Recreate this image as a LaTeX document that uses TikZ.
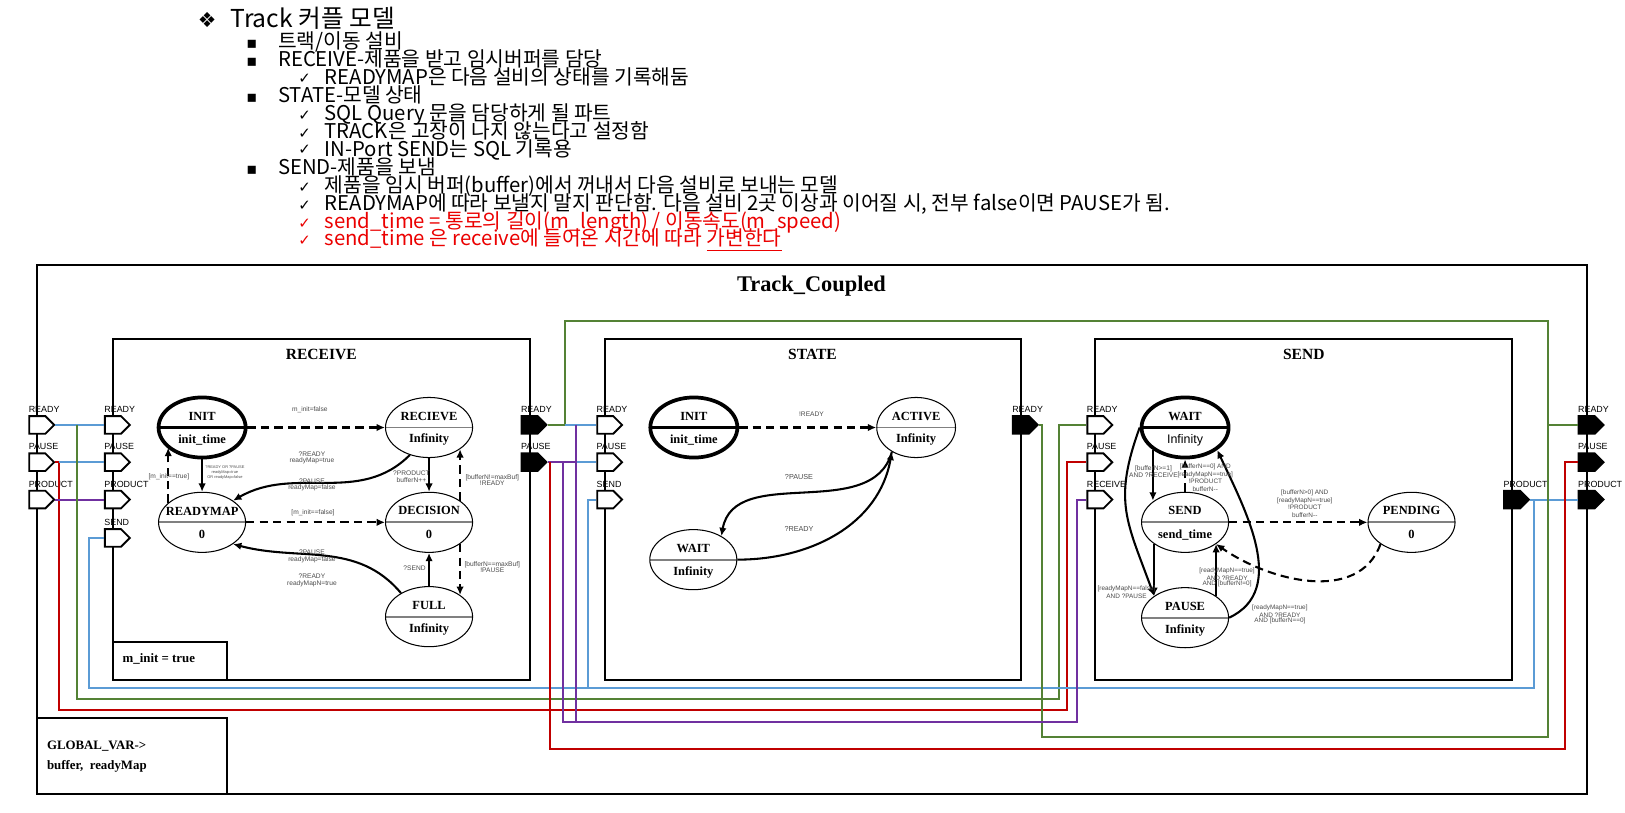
\documentclass[tikz,border=0pt]{standalone}
\usepackage{fontspec}
\setmainfont{Liberation Serif}
\setsansfont{Liberation Sans}
\newfontfamily\krfont{Noto Sans CJK KR}
\newfontfamily\dingfont{DejaVu Sans}
\usetikzlibrary{arrows.meta,shapes.geometric,shapes.symbols,calc}

\definecolor{wireblue}{RGB}{91,155,213}
\definecolor{wiregreen}{RGB}{84,130,53}
\definecolor{wirered}{RGB}{192,0,0}
\definecolor{wirepurple}{RGB}{112,48,160}
\definecolor{notered}{RGB}{235,0,0}

\tikzset{
  blk/.style={draw,line width=1pt},
  st/.style={ellipse,draw,line width=0.5pt,minimum width=42pt,minimum height=29pt,inner sep=0pt,
    path picture={\draw[black!50,line width=0.9pt] (path picture bounding box.west) -- (path picture bounding box.east);}},
  stfirst/.style={st,line width=1.8pt,
    path picture={\draw[line width=1.4pt] (path picture bounding box.west) -- (path picture bounding box.east);}},
  sttxt/.style={font=\fontsize{6}{7}\selectfont\bfseries,inner sep=0pt},
  tr/.style={line width=1pt,-{Latex[length=4pt,width=3.6pt]}},
  trd/.style={tr,dash pattern=on 4pt off 2.5pt},
  lbl/.style={font=\sffamily\fontsize{3.2}{3.1}\selectfont,text=black!70,align=center,inner sep=0pt},
  lbltight/.style={lbl,font=\sffamily\fontsize{3.1}{2.35}\selectfont},
  lblwide/.style={lbl,font=\sffamily\fontsize{3.1}{3.75}\selectfont},
  port/.style={signal,signal to=east,draw,line width=0.9pt,fill=white,minimum width=12pt,minimum height=8.5pt,inner sep=0pt},
  outport/.style={port,fill=black},
  portlbl/.style={font=\sffamily\fontsize{4.3}{5}\selectfont,inner sep=0pt},
  wire/.style={line width=1pt},
  toptxt/.style={font=\krfont\fontsize{9.8}{10}\selectfont,anchor=base west,inner sep=0pt},
  ding/.style={font=\dingfont\fontsize{7.2}{8}\selectfont,anchor=base,inner sep=0pt},
  sqr/.style={font=\dingfont\fontsize{7.8}{8}\selectfont,anchor=base,inner sep=0pt},
  blkttl/.style={font=\fontsize{7.5}{9}\selectfont\bfseries,inner sep=0pt},
  boxtxt/.style={font=\fontsize{6.2}{7}\selectfont\bfseries,anchor=west,inner sep=0pt}
}

\newcommand\fsmstate[5][st]{%
  \node[#1] (#2) at (#3) {};
  \node[sttxt] (#2-up) at ($(#2.center)+(0,-11)$) {#4};
  \node[sttxt] (#2-dn) at ($(#2.center)+(0,12)$) {#5};}

\newcommand\portnode[5]{%
  \node[#1] (#2) at (#3,#4) {};
  \node[portlbl,anchor=south west] (#2-lbl) at ($(#2.west |- #2.north)+(0,-2)$) {#5};}

\begin{document}
\begin{tikzpicture}[x=0.5pt,y=-0.5pt]
  \useasboundingbox[fill=white] (0,0) rectangle (1568,784);

  % notes on top
  \node[ding,font=\dingfont\fontsize{10}{11}\selectfont] (d0) at (200,26.5) {❖};
  \node[toptxt,font=\krfont\fontsize{11.9}{12}\selectfont] (t0) at (222,26.5) {Track 커플 모델};
  \node[sqr] (d1) at (243,47) {▪};
  \node[toptxt] (t1) at (268,47) {트랙/이동 설비};
  \node[sqr] (d2) at (243,64.3) {▪};
  \node[toptxt] (t2) at (268,64.3) {RECEIVE-제품을 받고 임시버퍼를 담당};
  \node[ding] (d3) at (294,80.2) {✓};
  \node[toptxt] (t3) at (313,81.6) {READYMAP은 다음 설비의 상태를 기록해둠};
  \node[sqr] (d4) at (243,98.9) {▪};
  \node[toptxt] (t4) at (268,98.9) {STATE-모델 상태};
  \node[ding] (d5) at (294,116.2) {✓};
  \node[toptxt] (t5) at (313,116.2) {SQL Query 문을 담당하게 될 파트};
  \node[ding] (d6) at (294,133.5) {✓};
  \node[toptxt] (t6) at (313,133.5) {TRACK은 고장이 나지 않는다고 설정함};
  \node[ding] (d7) at (294,149.4) {✓};
  \node[toptxt] (t7) at (313,150.8) {IN-Port SEND는 SQL 기록용};
  \node[sqr] (d8) at (243,168.1) {▪};
  \node[toptxt] (t8) at (268,168.1) {SEND-제품을 보냄};
  \node[ding] (d9) at (294,185.4) {✓};
  \node[toptxt] (t9) at (313,185.4) {제품을 임시 버퍼(buffer)에서 꺼내서 다음 설비로 보내는 모델};
  \node[ding] (d10) at (294,202.7) {✓};
  \node[toptxt] (t10) at (313,202.7) {READYMAP에 따라 보낼지 말지 판단함. 다음 설비 2곳 이상과 이어질 시, 전부 false이면 PAUSE가 됨.};
  \node[ding,text=notered] (d11) at (294,220) {✓};
  \node[toptxt,text=notered] (t11) at (313,220) {send\_time = 통로의 길이(m\_length) / 이동속도(m\_speed)};
  \node[ding,text=notered] (d12) at (294,237.3) {✓};
  \node[toptxt,text=notered] (t12) at (313,237.3) {send\_time 은 receive에 들어온 시간에 따라 \underline{가변한다}};

  % boxes
  \draw[blk] (36,256) rectangle (1531,766);
  \node[font=\fontsize{10.8}{12}\selectfont\bfseries,inner sep=0pt] (ttlTrack) at (783,276) {Track\_Coupled};
  \draw[blk] (109,327) rectangle (511,656);
  \draw[blk] (584,327) rectangle (985,656);
  \draw[blk] (1057,327) rectangle (1459,656);
  \node[blkttl] (ttlRcv) at (310,342) {RECEIVE};
  \node[blkttl] (ttlSt) at (784,342) {STATE};
  \node[blkttl] (ttlSnd) at (1258,342) {SEND};
  \draw[blk] (109,619.5) rectangle (219,656);
  \node[boxtxt] (minit) at (118,636) {m\_init = true};
  \draw[blk] (36,693) rectangle (219,766);
  \node[boxtxt] (gvar1) at (45,720) {GLOBAL\_VAR->};
  \node[boxtxt] (gvar2) at (45,739) {buffer,\ \ readyMap};

  % ports
  \portnode{port}{oReady}{36}{410}{READY}
  \portnode{port}{oPause}{36}{446}{PAUSE}
  \portnode{port}{oProduct}{36}{482}{PRODUCT}
  \portnode{port}{rReady}{109}{410}{READY}
  \portnode{port}{rPause}{109}{446}{PAUSE}
  \portnode{port}{rProduct}{109}{482}{PRODUCT}
  \portnode{port}{rSend}{109}{519}{SEND}
  \portnode{outport}{rReadyOut}{511}{410}{READY}
  \portnode{outport}{rPauseOut}{511}{446}{PAUSE}
  \portnode{port}{sReady}{584}{410}{READY}
  \portnode{port}{sPause}{584}{446}{PAUSE}
  \portnode{port}{sSend}{584}{482}{SEND}
  \portnode{outport}{sReadyOut}{985}{410}{READY}
  \portnode{port}{dReady}{1057}{410}{READY}
  \portnode{port}{dPause}{1057}{446}{PAUSE}
  \portnode{port}{dReceive}{1057}{482}{RECEIVE}
  \portnode{outport}{dProduct}{1459}{482}{PRODUCT}
  \portnode{outport}{oReadyOut}{1531}{410}{READY}
  \portnode{outport}{oPauseOut}{1531}{446}{PAUSE}
  \portnode{outport}{oProductOut}{1531}{482}{PRODUCT}

  % couplings
  \draw[wire,wireblue] (oReady.east) -- (rReady.west);
  \draw[wire,wirered] (oPause.east) -| (57,685) -| (1030,446) -- (dPause.west);
  \draw[wire,wireblue] (57,446) -- (rPause.west);
  \draw[wire,wirepurple] (oProduct.east) -- (rProduct.west);
  \draw[wire,wiregreen] (74.5,410) |- (1022,674.5) |- (dReady.west);
  \draw[wire,wireblue] (dProduct.east) -- (oProductOut.west);
  \draw[wire,wireblue] (1480,482) |- (86,664) |- (rSend.west);
  \draw[wire,wireblue] (567,664) |- (sSend.west);
  \draw[wire,wiregreen] (rReadyOut.east) -| (545,310) -| (1494,711) -| (1005,410) -- (sReadyOut.east);
  \draw[wire,wiregreen] (1494,410) -- (oReadyOut.west);
  \draw[wire,wireblue] (545,410) -- (sReady.west);
  \draw[wire,wirepurple] (rPauseOut.east) -- (556,446);
  \draw[wire,wireblue] (556,446) -- (sPause.west);
  \draw[wire,wirepurple] (543,446) |- (1039,697) |- (dReceive.west);
  \draw[wire,wirepurple] (556,410) -- (556,697);
  \draw[wire,wirered] (531,446) |- (1510,723) |- (oPauseOut.west);

  % RECEIVE
  \fsmstate[stfirst]{rInit}{195,412.5}{INIT}{init\_time}
  \fsmstate{rRecv}{414,412.5}{RECIEVE}{Infinity}
  \fsmstate{rMap}{195,504}{READYMAP}{0}
  \fsmstate{rDec}{414,504}{DECISION}{0}
  \fsmstate{rFull}{414,595}{FULL}{Infinity}
  \draw[trd] (rInit.east) -- (rRecv.west);
  \draw[tr] (rInit.south) -- (rMap.north);
  \draw[trd] (rMap.150) -- (rMap.150 |- rInit.210);
  \draw[tr] (rRecv.235) to[out=225,in=30] (rMap.35);
  \draw[tr] (rRecv.south) -- (rDec.north);
  \draw[trd] (rDec.35) -- (rDec.35 |- rRecv.-35);
  \draw[trd] (rMap.east) -- (rDec.west);
  \draw[tr] (rFull.140) to[out=130,in=-15] (rMap.-35);
  \draw[tr] (rFull.north) -- (rDec.south);
  \draw[trd] (rDec.-35) -- (rDec.-35 |- rFull.35);
  \node[lbl] (lMinitF) at (299,395) {m\_init=false};
  \node[lbl,font=\sffamily\fontsize{1.9}{2.4}\selectfont] (lInitMap) at (217,456) {?READY OR ?PAUSE\\readyMap=true\\OR readyMap=false};
  \node[lbl] (lMinitT) at (163,460) {[m\_init==true]};
  \node[lbl] (lRecvMap) at (301,442) {?READY\\readyMap=true};
  \node[lbl] (lRecvMap2) at (301,468) {?PAUSE\\readyMap=false};
  \node[lbl] (lProd) at (397,460) {?PRODUCT\\bufferN++};
  \node[lbl] (lNotMax) at (475,463) {[bufferN!=maxBuf]\\!READY};
  \node[lbl] (lMinitF2) at (302,495) {[m\_init==false]};
  \node[lbl] (lFullMap) at (301,537) {?PAUSE\\readyMap=false};
  \node[lbl] (lFullMap2) at (301,560) {?READY\\readyMapN=true};
  \node[lbl] (lSend) at (400,548) {?SEND};
  \node[lbl] (lMax) at (475,547) {[bufferN==maxBuf]\\!PAUSE};

  % STATE
  \fsmstate[stfirst]{sInit}{669.5,412.5}{INIT}{init\_time}
  \fsmstate[st,minimum width=38pt]{sAct}{884,412.5}{ACTIVE}{Infinity}
  \fsmstate{sWait}{669,540}{WAIT}{Infinity}
  \draw[trd] (sInit.east) -- (sAct.west);
  \draw[tr] (sAct.225) to[out=-105,in=80] (sWait.40);
  \draw[tr] (sWait.east) to[out=0,in=-100] (sAct.225);
  \node[lbl] (lActRdy) at (783,400) {!READY};
  \node[lbl,font=\sffamily\fontsize{3.5}{4}\selectfont] (lActPause) at (771,460) {?PAUSE};
  \node[lbl,font=\sffamily\fontsize{3.5}{4}\selectfont] (lWaitRdy) at (771,510.5) {?READY};

  % SEND
  \fsmstate[stfirst]{dWait}{1143.5,412.5}{WAIT}{\sffamily\mdseries Infinity}
  \fsmstate{dSend}{1143.5,504}{SEND}{send\_time}
  \fsmstate{dPause}{1143.5,596}{PAUSE}{Infinity}
  \fsmstate{dPend}{1362,504}{PENDING}{0}
  \draw[tr] (dWait.215) -- (dWait.215 |- dSend.145);
  \draw[trd] (dSend.north) -- (dWait.south);
  \draw[trd] (dSend.east) -- (dPend.west);
  \draw[trd] (dPend.215) to[out=-110,in=-35] (dSend.-35);
  \draw[tr] (dSend.215) -- (dSend.215 |- dPause.145);
  \draw[tr] (dPause.35) -- (dPause.35 |- dSend.-35);
  \draw[tr] (dWait.180) to[out=-110,in=110,looseness=1.2] (dSend.215 |- dPause.145);
  \draw[tr] (dPause.0) to[out=25,in=-65] (dWait.-35);
  \node[lbl] (lRecvIn) at (1113,455) {[bufferN>=1]\\AND ?RECEIVE};
  \node[lblwide] (lEmpty) at (1163,461) {[bufferN==0] AND\\{[readyMapN==true]}\\!PRODUCT\\bufferN{-}{-}};
  \node[lblwide] (lPend) at (1259,486) {[bufferN>0] AND\\{[readyMapN==true]}\\!PRODUCT\\bufferN{-}{-}};
  \node[lbltight] (lToPause) at (1087,571) {[readyMapN==false]\\AND ?PAUSE};
  \node[lbltight] (lBack) at (1184,557) {[readyMapN==true]\\AND ?READY\\AND [bufferN!=0]};
  \node[lbltight] (lBackW) at (1235,593) {[readyMapN==true]\\AND ?READY\\AND [bufferN==0]};
\end{tikzpicture}
\end{document}
